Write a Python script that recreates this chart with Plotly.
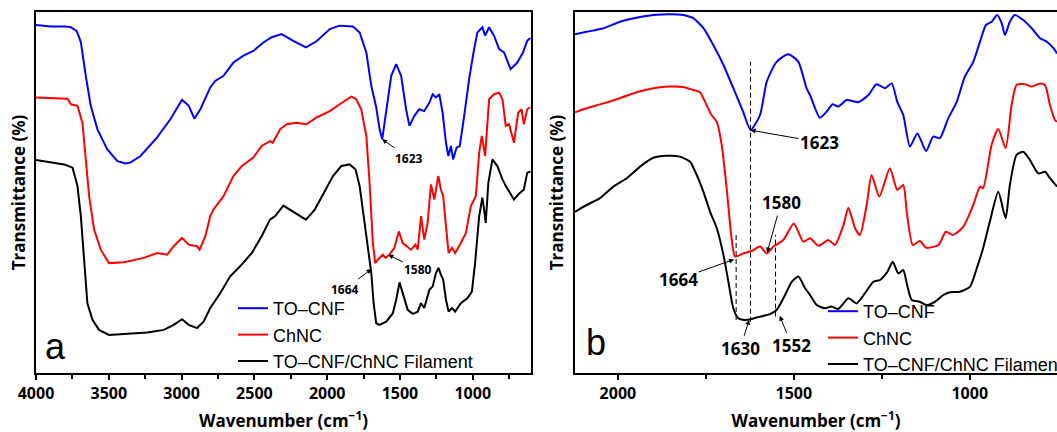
import plotly.graph_objects as go

W, H = 1057, 432

series_names = ["TO–CNF", "ChNC", "TO–CNF/ChNC Filament"]
series_colors = ["#0000FF", "#FF0000", "#000000"]

# ---------------- Panel a : full range 4000-600 cm-1 ----------------
a_wn_tocnf = [4000, 3900, 3800, 3761, 3720, 3692, 3658, 3624, 3578, 3510, 3441, 3384, 3350, 3282,
              3168, 3077, 2997, 2951, 2912, 2871, 2803, 2769, 2712, 2644, 2575, 2507, 2438, 2381,
              2313, 2233, 2146, 2073, 1982, 1914, 1823, 1777, 1731, 1697, 1663, 1640, 1622, 1583,
              1560, 1526, 1492, 1458, 1435, 1401, 1367, 1333, 1298, 1275, 1253, 1230, 1207, 1184,
              1168, 1150, 1135, 1111, 1089, 1059, 1025, 991, 968, 934, 915, 888, 854, 819, 785,
              740, 694, 655, 626, 605]
a_t_tocnf = [90.25, 89.9, 89.9, 89.7, 88.75, 86.0, 77.6, 70.1, 64.25, 59.25, 56.3, 55.75, 56.0, 57.6,
             62.25, 66.75, 71.6, 70.1, 66.9, 69.25, 74.7, 76.3, 77.6, 80.9, 82.6, 83.8, 85.9, 87.2,
             88.0, 86.3, 84.7, 86.2, 89.25, 90.1, 89.9, 88.4, 83.4, 75.1, 69.75, 64.25, 61.75, 71.0,
             77.6, 80.5, 77.6, 69.25, 65.1, 67.6, 69.25, 68.8, 70.9, 73.0, 72.2, 73.0, 68.4, 60.9,
             57.6, 60.1, 56.75, 59.7, 60.1, 67.6, 76.75, 84.25, 88.4, 89.7, 87.6, 89.7, 87.6, 84.25, 83.4,
             79.25, 80.9, 83.4, 86.3, 87.0]

a_wn_chnc = [4000, 3850, 3783, 3760, 3715, 3681, 3658, 3635, 3601, 3555, 3499, 3396, 3259, 3168,
             3099, 3054, 2997, 2951, 2894, 2876, 2837, 2803, 2781, 2712, 2644, 2586, 2507, 2450,
             2393, 2374, 2324, 2279, 2210, 2142, 2073, 1982, 1914, 1834, 1800, 1766, 1731, 1709,
             1686, 1670, 1652, 1618, 1599, 1572, 1538, 1508, 1481, 1454, 1424, 1394, 1378, 1355,
             1333, 1310, 1287, 1264, 1237, 1219, 1203, 1184, 1166, 1143, 1121, 1082, 1047, 1013,
             979, 956, 938, 915, 888, 854, 819, 796, 773, 751, 717, 688, 665, 649, 626, 605]
a_t_chnc = [72.2, 72.0, 71.9, 70.5, 70.1, 65.9, 56.75, 47.6, 39.25, 34.25, 30.9, 31.1, 32.2, 33.4,
            33.0, 35.1, 37.2, 35.5, 35.1, 34.25, 37.6, 42.6, 44.25, 47.6, 52.6, 55.1, 57.2, 60.1,
            61.3, 60.9, 64.25, 65.5, 65.9, 65.5, 67.2, 68.8, 70.5, 72.4, 71.75, 69.25, 62.6, 51.0,
            35.9, 30.9, 31.75, 33.0, 32.2, 33.0, 34.7, 38.8, 35.9, 35.1, 34.25, 35.5, 34.25, 42.6,
            36.75, 40.9, 50.5, 46.75, 52.6, 49.25, 47.6, 40.1, 33.4, 34.7, 33.4, 35.9, 38.4, 45.1,
            47.6, 58.4, 62.6, 57.6, 71.75, 73.0, 73.4, 71.75, 65.1, 65.5, 60.9, 68.4, 69.25, 65.5, 69.25, 69.75]

a_wn_fil = [4000, 3806, 3749, 3715, 3692, 3670, 3647, 3612, 3567, 3499, 3350, 3236, 3122, 3054,
            2997, 2951, 2894, 2849, 2803, 2735, 2666, 2598, 2518, 2450, 2393, 2358, 2301, 2233,
            2146, 2085, 2016, 1960, 1903, 1846, 1805, 1777, 1743, 1720, 1697, 1681, 1663, 1641,
            1594, 1549, 1526, 1503, 1481, 1447, 1412, 1378, 1355, 1333, 1298, 1275, 1253, 1235,
            1219, 1203, 1184, 1166, 1143, 1121, 1082, 1036, 1006, 984, 956, 934, 922, 911, 893,
            865, 831, 796, 773, 751, 717, 688, 665, 649, 626, 605]
a_t_fil = [56.6, 55.5, 54.7, 50.1, 42.6, 30.9, 20.9, 16.75, 14.25, 13.0, 13.25, 13.6, 14.25, 15.5,
           16.9, 15.5, 14.7, 16.3, 19.7, 23.4, 27.6, 30.1, 33.4, 37.6, 41.75, 42.6, 45.25, 43.8,
           41.75, 44.25, 48.8, 52.6, 55.1, 55.5, 54.25, 50.1, 40.9, 34.25, 28.4, 20.9, 15.9, 15.5,
           16.3, 18.4, 21.75, 26.1, 23.4, 19.25, 18.25, 18.8, 20.9, 19.7, 24.25, 25.1, 28.4, 29.7,
           28.0, 26.75, 21.75, 18.8, 19.7, 18.8, 20.9, 22.2, 23.8, 30.9, 42.6, 47.2, 44.25, 40.9, 50.9,
           56.75, 55.1, 51.75, 50.1, 48.8, 46.75, 48.0, 48.8, 49.25, 53.4, 53.75]

# ---------------- Panel b : expanded 2120-750 cm-1 ----------------
b_wn_tocnf = [2122, 2089, 2041, 1994, 1947, 1899, 1852, 1814, 1786, 1757, 1729, 1700, 1672, 1644,
              1623, 1596, 1577, 1549, 1516, 1487, 1464, 1454, 1426, 1407, 1390, 1374, 1350, 1317,
              1288, 1265, 1241, 1222, 1206, 1189, 1170, 1149, 1124, 1104, 1085, 1061, 1037, 1014,
              990, 971, 954, 938, 922, 909, 900, 886, 872, 848, 824, 800, 781, 762, 752]
b_t_tocnf = [88.2, 88.8, 89.7, 91.3, 92.3, 93.0, 93.2, 93.0, 92.2, 89.7, 85.5, 80.5, 74.7, 68.8,
             64.25, 68.0, 76.3, 81.3, 83.2, 81.3, 74.7, 73.0, 67.3, 68.8, 70.7, 70.1, 71.75, 71.2,
             73.0, 75.7, 74.7, 75.9, 71.3, 68.0, 60.1, 63.4, 59.0, 62.6, 62.2, 67.2, 71.3, 77.6,
             81.3, 86.3, 90.5, 91.3, 93.0, 90.9, 88.0, 91.3, 93.0, 91.75, 89.7, 87.2, 86.3, 84.7, 83.4]

b_wn_chnc = [2122, 2089, 2041, 1994, 1947, 1899, 1852, 1814, 1786, 1767, 1748, 1734, 1719, 1705,
             1691, 1677, 1667, 1644, 1620, 1596, 1577, 1558, 1530, 1500, 1473, 1454, 1430, 1402,
             1383, 1359, 1345, 1326, 1312, 1293, 1279, 1257, 1227, 1206, 1189, 1179, 1162, 1142,
             1123, 1089, 1068, 1047, 1018, 990, 971, 962, 938, 919, 898, 881, 867, 843, 824, 800,
             786, 772, 758, 752]
b_t_chnc = [68.7, 69.7, 70.9, 72.2, 73.7, 74.7, 75.1, 75.0, 74.25, 73.7, 70.5, 68.0, 66.3, 60.5,
            49.7, 37.2, 32.6, 33.4, 34.0, 35.1, 33.4, 35.1, 36.75, 40.9, 36.3, 37.2, 35.3, 36.75,
            35.5, 40.5, 44.8, 39.7, 38.0, 45.5, 53.0, 47.6, 54.7, 49.25, 50.5, 43.8, 35.5, 36.5,
            34.8, 35.5, 38.8, 38.0, 40.1, 45.5, 50.1, 49.7, 60.5, 64.5, 59.7, 70.5, 75.5, 75.7, 75.1, 75.9,
            75.5, 70.5, 66.75, 66.3]

b_wn_fil = [2122, 2089, 2051, 2013, 1975, 1937, 1899, 1861, 1824, 1795, 1776, 1757, 1738, 1719,
            1700, 1686, 1672, 1658, 1639, 1620, 1596, 1568, 1549, 1525, 1506, 1487, 1468, 1454,
            1435, 1412, 1393, 1374, 1345, 1322, 1298, 1274, 1255, 1234, 1219, 1203, 1189, 1179,
            1165, 1142, 1123, 1099, 1075, 1056, 1028, 999, 980, 962, 943, 919, 898, 886, 867, 848,
            829, 805, 786, 772, 752]
b_t_fil = [43.8, 45.5, 47.2, 50.1, 52.2, 55.1, 57.3, 57.8, 57.6, 56.3, 53.0, 48.8, 43.8, 39.7,
           33.0, 26.3, 19.7, 17.2, 16.75, 17.0, 17.6, 18.2, 19.25, 23.0, 26.3, 27.6, 24.7, 23.0,
           20.5, 19.7, 20.1, 19.5, 22.2, 20.9, 23.4, 26.3, 26.75, 28.8, 31.3, 28.4, 29.25, 25.9,
           21.75, 21.3, 20.5, 21.3, 23.0, 23.7, 23.8, 25.1, 29.7, 34.7, 41.3, 48.8, 42.2, 50.5, 58.0, 58.8,
           56.75, 53.4, 53.8, 52.2, 50.1]

# peak labels: (text, wavenumber, transmittance at arrow head, dx, dy)
a_peaks = [("1623", 1623, 61.8, 27, 19),
           ("1580", 1580, 33.0, 30, 15),
           ("1664", 1695, 29.4, -27, 20)]
b_peaks = [("1623", 1623, 64.2, 69, 12),
           ("1580", 1576, 33.6, 14, -50),
           ("1664", 1670, 31.9, -56, 20),
           ("1630", 1627, 16.8, -9, 29),
           ("1552", 1540, 17.8, 12, 30)]
# dashed guide lines in panel b: (wavenumber, bottom, top)
b_guides = [(1664, 16.75, 38.8), (1623, 16.3, 81.3), (1552, 17.6, 38.0)]

fig = go.Figure()

a_data = [(a_wn_tocnf, a_t_tocnf), (a_wn_chnc, a_t_chnc), (a_wn_fil, a_t_fil)]
b_data = [(b_wn_tocnf, b_t_tocnf), (b_wn_chnc, b_t_chnc), (b_wn_fil, b_t_fil)]

for name, color, (wn, t) in zip(series_names, series_colors, a_data):
    fig.add_trace(go.Scatter(x=wn, y=t, mode="lines", name=name,
                             line=dict(color=color, width=2),
                             xaxis="x", yaxis="y", legend="legend"))
for name, color, (wn, t) in zip(series_names, series_colors, b_data):
    fig.add_trace(go.Scatter(x=wn, y=t, mode="lines", name=name,
                             line=dict(color=color, width=2, shape="spline", smoothing=0.6),
                             xaxis="x2", yaxis="y2", legend="legend2"))

bold = dict(family="Open Sans", size=16, color="black", weight="bold")
title_font = dict(family="Open Sans", size=17, color="black", weight="bold")

common_x = dict(showline=True, linecolor="black", linewidth=1.5, ticks="outside",
                ticklen=5, tickwidth=1.5, tickcolor="black", dtick=500, tick0=0,
                minor=dict(dtick=250, ticks="outside", ticklen=4, tickwidth=1.5, tickcolor="black"),
                tickfont=bold, showgrid=False, zeroline=False, automargin=False)
common_y = dict(showline=True, linecolor="black", linewidth=1.5, ticks="",
                showticklabels=False, showgrid=False, zeroline=False, automargin=False)

xt = dict(text="Wavenumber (cm<sup>−1</sup>)", font=title_font, standoff=13)

fig.update_layout(
    width=W, height=H,
    margin=dict(l=0, r=0, t=12, b=59, autoexpand=False),
    paper_bgcolor="white", plot_bgcolor="white",
    xaxis=dict(domain=[36 / W, 531 / W], range=[4000, 600], anchor="y", mirror=True,
               title=xt, **common_x),
    yaxis=dict(domain=[0, 1], range=[3.5, 93.5], anchor="x", mirror=True,
               title=dict(text="Transmittance (%)", font=title_font, standoff=4), **common_y),
    xaxis2=dict(domain=[575 / W, 1], range=[2122, 752], anchor="y2", mirror=True,
                title=xt, **common_x),
    yaxis2=dict(domain=[0, 1], range=[3.5, 93.75], anchor="x2", mirror=False,
                title=dict(text="Transmittance (%)", font=title_font, standoff=5), **common_y),
    legend=dict(x=233 / W, xanchor="left", y=(373 - 290) / 361, yanchor="top",
                bgcolor="rgba(0,0,0,0)", borderwidth=0, tracegroupgap=0,
                font=dict(family="Liberation Sans", size=18, color="black")),
    legend2=dict(x=823 / W, xanchor="left", y=(373 - 293) / 361, yanchor="top",
                 bgcolor="rgba(0,0,0,0)", borderwidth=0, tracegroupgap=0,
                 font=dict(family="Liberation Sans", size=18, color="black")),
    showlegend=True,
)

annotations = []
for txt, wn, t, dx, dy in a_peaks:
    annotations.append(dict(x=wn, y=t, xref="x", yref="y", text=txt, showarrow=True,
                            ax=dx, ay=dy, arrowhead=2, arrowsize=1, arrowwidth=1,
                            arrowcolor="black",
                            font=dict(family="Open Sans", size=12, color="black", weight="bold")))
for txt, wn, t, dx, dy in b_peaks:
    annotations.append(dict(x=wn, y=t, xref="x2", yref="y2", text=txt, showarrow=True,
                            ax=dx, ay=dy, arrowhead=2, arrowsize=1, arrowwidth=1,
                            arrowcolor="black",
                            font=dict(family="Open Sans", size=17, color="black", weight="bold")))
annotations.append(dict(x=0.04, y=0.01, xref="x domain", yref="y domain", text="a",
                        showarrow=False, xanchor="center", yanchor="bottom",
                        font=dict(family="Liberation Sans", size=36, color="black")))
annotations.append(dict(x=0.044, y=0.022, xref="x2 domain", yref="y2 domain", text="b",
                        showarrow=False, xanchor="center", yanchor="bottom",
                        font=dict(family="Liberation Sans", size=36, color="black")))
fig.update_layout(annotations=annotations)

for wn, lo, hi in b_guides:
    fig.add_shape(type="line", xref="x2", yref="y2", x0=wn, x1=wn, y0=lo, y1=hi,
                  line=dict(color="black", width=1, dash="5px,3px"))

fig.write_html("out.html", config={"displayModeBar": False},
               post_script="document.body.style.margin='0px';")
